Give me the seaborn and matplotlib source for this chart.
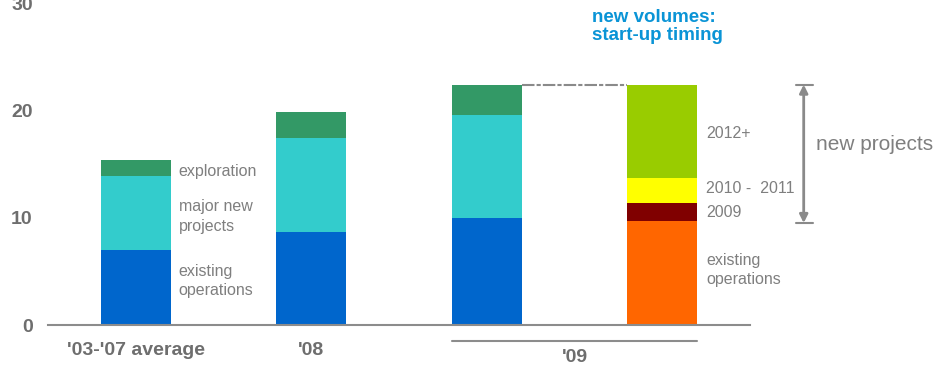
import matplotlib.pyplot as plt
import seaborn as sns
import numpy as np
import pandas as pd

# categories on the x axis
groups = ["'03-'07 average", "'08", "'09", "'09 timing"]

# stacked segments per bar, bottom to top
seg_avg = [7.0, 6.9, 1.5]
seg_08 = [8.7, 8.7, 2.4]
seg_09 = [10.0, 9.6, 2.8]
seg_09_timing = [9.65, 1.75, 2.3, 8.7]

colors_main = ["#0066cc", "#33cccc", "#339966"]
colors_timing = ["#ff6600", "#800000", "#ffff00", "#99cc00"]

tick_labels = ["'03-'07 average", "'08"]
GRAY = "#7f7f7f"
TICK_GRAY = "#6e6e6e"
BLUE = "#0a94d6"

sns.set_style("white")
plt.rcParams["font.family"] = ["Liberation Sans", "DejaVu Sans"]

fig = plt.figure(figsize=(9.35, 3.67), dpi=100)
ax = fig.add_axes([48 / 935, 42 / 367, 702 / 935, 322 / 367])

# cumulative tops per layer, drawn from the top layer downwards
segments = [seg_avg, seg_08, seg_09, seg_09_timing]
bar_colors = [colors_main, colors_main, colors_main, colors_timing]
n_layers = max(len(s) for s in segments)
for layer in range(n_layers - 1, -1, -1):
    rows = []
    for g, seg, cols in zip(groups, segments, bar_colors):
        if layer < len(seg):
            rows.append({"group": g, "top": float(np.sum(seg[: layer + 1])), "color": cols[layer]})
        else:
            rows.append({"group": g, "top": 0.0, "color": "#ffffff"})
    df = pd.DataFrame(rows)
    sns.barplot(data=df, x="group", y="top", hue="group", order=groups,
                hue_order=groups, palette=list(df["color"]), width=0.4,
                saturation=1, legend=False, ax=ax, linewidth=0)

ax.set_xlim(-0.5, 3.5)
ax.set_ylim(0, 30)
ax.set_yticks([0, 10, 20, 30])
ax.set_yticklabels(["0", "10", "20", "30"], fontsize=14, fontweight="bold", color=TICK_GRAY)
ax.set_xticks([0, 1])
ax.set_xticklabels(tick_labels, fontsize=14, fontweight="bold", color=TICK_GRAY)
ax.tick_params(axis="y", length=0, pad=11)
ax.tick_params(axis="x", length=0, pad=12)
ax.set_xlabel("")
ax.set_ylabel("")
for side in ["left", "right", "top"]:
    ax.spines[side].set_visible(False)
ax.spines["bottom"].set_color("#8c8c8c")
ax.spines["bottom"].set_linewidth(1.5)

# '09 group label with bracket line
ax.plot([1.8, 3.2], [-1.5, -1.5], color="#8c8c8c", lw=1.5, clip_on=False)
ax.text(2.5, -3.0, "'09", ha="center", va="center", fontsize=14,
        fontweight="bold", color=TICK_GRAY, clip_on=False)

# dashed connector between the '09 bars
top_09 = float(np.sum(seg_09))
ax.plot([2.2, 2.8], [top_09, top_09], color="#8a8a8a", lw=1.5, ls=(0, (6, 1, 2, 1)))

# segment labels
lbl = dict(fontsize=11.5, color=GRAY, va="center", linespacing=1.35)
ax.text(0.245, 14.3, "exploration", **lbl)
ax.text(0.245, 10.1, "major new\nprojects", **lbl)
ax.text(0.245, 4.1, "existing\noperations", **lbl)
ax.text(3.25, 17.85, "2012+", **lbl)
ax.text(3.25, 12.7, "2010 -  2011", **lbl)
ax.text(3.25, 10.5, "2009", **lbl)
ax.text(3.25, 5.1, "existing\noperations", **lbl)

# new projects bracket
arrow_top = float(np.sum(seg_09_timing))
arrow_bottom = 9.5
ax.annotate("", xy=(3.806, arrow_top), xytext=(3.806, arrow_bottom),
            arrowprops=dict(arrowstyle="<|-|>", color="#8a8a8a", lw=2.0,
                            mutation_scale=12, shrinkA=0, shrinkB=0),
            annotation_clip=False)
for yv in [arrow_top, arrow_bottom]:
    ax.plot([3.76, 3.86], [yv, yv], color="#8a8a8a", lw=1.5, clip_on=False)
ax.text(3.874, 16.8, "new projects", fontsize=15, color=GRAY, va="center", clip_on=False)

# title
ax.text(2.6, 27.8, "new volumes:\nstart-up timing", fontsize=13.5, fontweight="bold",
        color=BLUE, va="center", ha="left", linespacing=1.1)

fig.savefig("out.png", dpi=100)
plt.close(fig)
